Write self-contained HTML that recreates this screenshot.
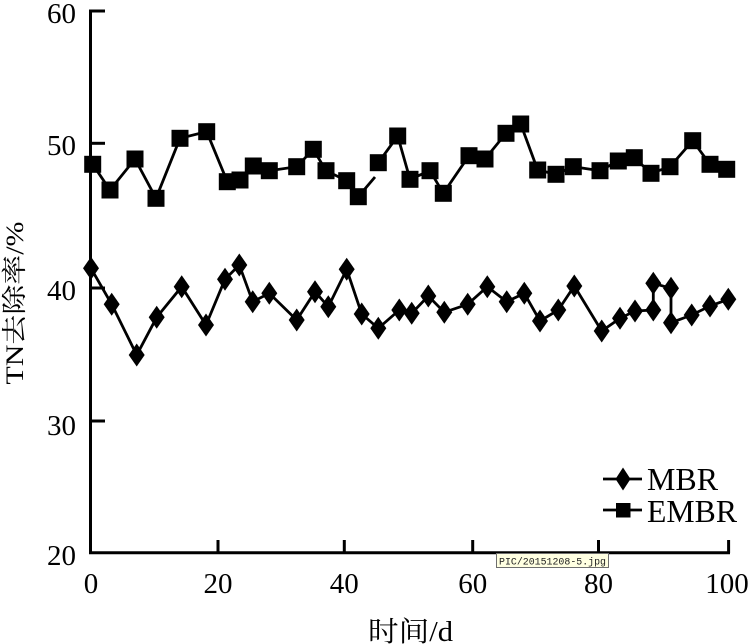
<!DOCTYPE html>
<html><head><meta charset="utf-8"><style>
html,body{margin:0;padding:0;background:#fff;}
svg{display:block;}
</style></head><body>
<svg width="749" height="644" viewBox="0 0 749 644" xmlns="http://www.w3.org/2000/svg">
<defs>
<rect id="s" x="-8.5" y="-8.5" width="17" height="17" fill="#000"/>
<path id="d" d="M0,-11.5L8,0L0,11.5L-8,0Z" fill="#000"/>
</defs>
<rect width="749" height="644" fill="#fff"/>
<!-- axes -->
<g stroke="#000" stroke-width="3" fill="none">
<line x1="90.5" y1="9.5" x2="90.5" y2="554"/>
<line x1="89" y1="552.7" x2="730" y2="552.7"/>
<line x1="90" y1="11" x2="105" y2="11"/>
<line x1="90" y1="143.3" x2="105" y2="143.3"/>
<line x1="90" y1="288" x2="105" y2="288"/>
<line x1="90" y1="421" x2="105" y2="421"/>
<line x1="218" y1="540" x2="218" y2="553"/>
<line x1="344.3" y1="540" x2="344.3" y2="553"/>
<line x1="472.7" y1="540" x2="472.7" y2="553"/>
<line x1="598.5" y1="540" x2="598.5" y2="553"/>
<line x1="728.6" y1="540" x2="728.6" y2="553"/>
</g>
<!-- y tick labels -->
<g font-family="'Liberation Serif', serif" font-size="29" text-anchor="end" fill="#000">
<text x="76" y="23">60</text>
<text x="76" y="155">50</text>
<text x="76" y="300">40</text>
<text x="76" y="435">30</text>
<text x="76" y="565">20</text>
</g>
<!-- x tick labels -->
<g font-family="'Liberation Serif', serif" font-size="29" text-anchor="middle" fill="#000">
<text x="91" y="593">0</text>
<text x="218" y="593">20</text>
<text x="344.3" y="593">40</text>
<text x="472.7" y="593">60</text>
<text x="598.5" y="593">80</text>
<text x="727" y="593">100</text>
</g>
<!-- axis titles -->
<text x="368" y="641" font-family="'Liberation Serif','Noto Serif CJK SC',serif" font-size="28" textLength="85" lengthAdjust="spacingAndGlyphs" fill="#000">时间/d</text>
<text transform="translate(23,303) rotate(-90)" font-family="'Liberation Serif','Noto Serif CJK SC',serif" font-size="25" text-anchor="middle" textLength="163" lengthAdjust="spacingAndGlyphs" fill="#000">TN去除率/%</text>

<!-- lines -->
<g stroke="#000" stroke-width="2.8" fill="none">
<polyline points="92.7,164.3 110,190 135,159 156,198.3 180,138.3 206.7,131.7 227.3,181.7 240,180 253.3,166 269.3,170.7 296.7,166.7 313.3,149.3 326,170.7 346.7,180.7 358.3,196.7 375,177"/>
<polyline points="378.3,162.7 397.7,136 410,179.3 430,170.7 443.3,193.3 469,155.7 485,159 506,133.3 520.7,124 537.7,170 556,174.3 573.3,166.7 600,170.7 618.3,161 634.3,157.7 651,173.3 670,166.7 692.7,140.7 710,164.3 726.7,169.3"/>
<polyline points="91,268.3 111.7,304.3 136.7,355 156.7,317.3 181.7,286.7 206,325 225,279.3 239.3,265 252.7,301.7 269.3,293.3 296.7,320 315,291.7 328.3,306.7 346.7,269.3 361.7,314 378.3,328.3 399.3,310 411.7,313.3 428.3,296 444.3,312.3 467.7,304.3 487.3,286.7 506.7,301.7 524.3,293.3 540,321 558.3,310 574.3,286 601.7,331 620,318.3 635,311 653.3,310 653.3,283.3 671,288.3 671,322.7 691.7,315 710,306 728.3,299.3"/>
</g>

<!-- EMBR squares -->
<use href="#s" x="92.7" y="164.3"/>
<use href="#s" x="110" y="190"/>
<use href="#s" x="135" y="159"/>
<use href="#s" x="156" y="198.3"/>
<use href="#s" x="180" y="138.3"/>
<use href="#s" x="206.7" y="131.7"/>
<use href="#s" x="227.3" y="181.7"/>
<use href="#s" x="240" y="180"/>
<use href="#s" x="253.3" y="166"/>
<use href="#s" x="269.3" y="170.7"/>
<use href="#s" x="296.7" y="166.7"/>
<use href="#s" x="313.3" y="149.3"/>
<use href="#s" x="326" y="170.7"/>
<use href="#s" x="346.7" y="180.7"/>
<use href="#s" x="358.3" y="196.7"/>
<use href="#s" x="378.3" y="162.7"/>
<use href="#s" x="397.7" y="136"/>
<use href="#s" x="410" y="179.3"/>
<use href="#s" x="430" y="170.7"/>
<use href="#s" x="443.3" y="193.3"/>
<use href="#s" x="469" y="155.7"/>
<use href="#s" x="485" y="159"/>
<use href="#s" x="506" y="133.3"/>
<use href="#s" x="520.7" y="124"/>
<use href="#s" x="537.7" y="170"/>
<use href="#s" x="556" y="174.3"/>
<use href="#s" x="573.3" y="166.7"/>
<use href="#s" x="600" y="170.7"/>
<use href="#s" x="618.3" y="161"/>
<use href="#s" x="634.3" y="157.7"/>
<use href="#s" x="651" y="173.3"/>
<use href="#s" x="670" y="166.7"/>
<use href="#s" x="692.7" y="140.7"/>
<use href="#s" x="710" y="164.3"/>
<use href="#s" x="726.7" y="169.3"/>

<!-- MBR diamonds -->
<use href="#d" x="91" y="268.3"/>
<use href="#d" x="111.7" y="304.3"/>
<use href="#d" x="136.7" y="355"/>
<use href="#d" x="156.7" y="317.3"/>
<use href="#d" x="181.7" y="286.7"/>
<use href="#d" x="206" y="325"/>
<use href="#d" x="225" y="279.3"/>
<use href="#d" x="239.3" y="265"/>
<use href="#d" x="252.7" y="301.7"/>
<use href="#d" x="269.3" y="293.3"/>
<use href="#d" x="296.7" y="320"/>
<use href="#d" x="315" y="291.7"/>
<use href="#d" x="328.3" y="306.7"/>
<use href="#d" x="346.7" y="269.3"/>
<use href="#d" x="361.7" y="314"/>
<use href="#d" x="378.3" y="328.3"/>
<use href="#d" x="399.3" y="310"/>
<use href="#d" x="411.7" y="313.3"/>
<use href="#d" x="428.3" y="296"/>
<use href="#d" x="444.3" y="312.3"/>
<use href="#d" x="467.7" y="304.3"/>
<use href="#d" x="487.3" y="286.7"/>
<use href="#d" x="506.7" y="301.7"/>
<use href="#d" x="524.3" y="293.3"/>
<use href="#d" x="540" y="321"/>
<use href="#d" x="558.3" y="310"/>
<use href="#d" x="574.3" y="286"/>
<use href="#d" x="601.7" y="331"/>
<use href="#d" x="620" y="318.3"/>
<use href="#d" x="635" y="311"/>
<use href="#d" x="653.3" y="310"/>
<use href="#d" x="653.3" y="283.3"/>
<use href="#d" x="671" y="288.3"/>
<use href="#d" x="671" y="322.7"/>
<use href="#d" x="691.7" y="315"/>
<use href="#d" x="710" y="306"/>
<use href="#d" x="728.3" y="299.3"/>

<!-- legend -->
<g stroke="#000" stroke-width="2.8">
<line x1="603" y1="479" x2="642" y2="479"/>
<line x1="603" y1="510" x2="642" y2="510"/>
</g>
<path d="M623,467.5l7.5,11.5l-7.5,11.5l-7.5,-11.5z" fill="#000"/>
<rect x="616" y="503" width="14.5" height="14.5" fill="#000"/>
<text x="647" y="490" font-family="'Liberation Serif', serif" font-size="32" textLength="71" lengthAdjust="spacingAndGlyphs" fill="#000">MBR</text>
<text x="647" y="522" font-family="'Liberation Serif', serif" font-size="32" textLength="90" lengthAdjust="spacingAndGlyphs" fill="#000">EMBR</text>

<!-- tooltip overlay -->
<rect x="496.5" y="553.5" width="112" height="14" fill="#ffffe1" stroke="#6e6e6e" stroke-width="1"/>
<text x="499" y="564.5" font-family="'Liberation Mono', monospace" font-size="10" fill="#222" textLength="107" lengthAdjust="spacingAndGlyphs">PIC/20151208-5.jpg</text>
</svg>
</body></html>
